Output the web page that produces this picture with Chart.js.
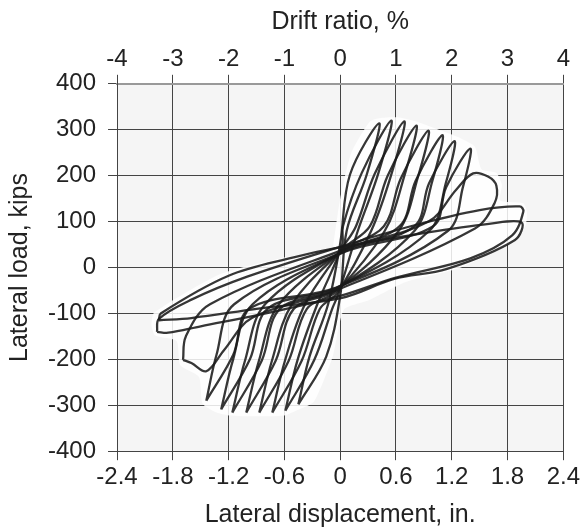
<!DOCTYPE html>
<html>
<head>
<meta charset="utf-8">
<script src="https://cdn.jsdelivr.net/npm/chart.js@4.4.1/dist/chart.umd.min.js"></script>
<style>
  html, body { margin: 0; padding: 0; background: #fff; }
</style>
</head>
<body>
<canvas id="hysteresis" width="583" height="531"></canvas>
<script>
// tick labels
const dispTicks = [-2.4, -1.8, -1.2, -0.6, 0, 0.6, 1.2, 1.8, 2.4];
const driftTicks = [-4, -3, -2, -1, 0, 1, 2, 3, 4];
const loadTicks = [-400, -300, -200, -100, 0, 100, 200, 300, 400];

// hysteresis cycles, [lateral displacement (in.), lateral load (kips)]
const cycle1 = [[-0.45,-298],[-0.33,-194],[-0.13,-80],[0,52],[0.105,202],[0.42,314],[0.285,202],[0.07,80],[0,-62],[-0.15,-194],[-0.45,-298]];
const cycle2 = [[-0.59,-312],[-0.458,-201],[-0.246,-80],[0.02,48],[0.03,90],[0.23,205],[0.55,320],[0.41,205],[0.19,80],[-0.02,-58],[-0.086,-90],[-0.278,-201],[-0.59,-312]];
const cycle3 = [[-0.73,-316],[-0.594,-203],[-0.378,-80],[0.03,45],[0.17,90],[0.372,204],[0.69,318],[0.552,204],[0.334,80],[-0.03,-55],[-0.218,-90],[-0.414,-203],[-0.73,-316]];
const cycle4 = [[-0.87,-316],[-0.734,-203],[-0.518,-80],[0.04,42],[0.32,90],[0.511,200],[0.82,309],[0.691,200],[0.48,80],[-0.04,-52],[-0.358,-90],[-0.554,-203],[-0.87,-316]];
const cycle5 = [[-1.01,-316],[-0.874,-203],[-0.658,-80],[0.05,40],[0.47,90],[0.652,194],[0.95,298],[0.832,194],[0.63,80],[-0.05,-50],[-0.498,-90],[-0.694,-203],[-1.01,-316]];
const cycle6 = [[-1.16,-316],[-1.024,-203],[-0.808,-80],[0.05,38],[0.64,90],[0.812,189],[1.10,288],[0.992,189],[0.80,80],[-0.05,-48],[-0.648,-90],[-0.844,-203],[-1.16,-316]];
const cycle7 = [[-1.28,-309],[-1.151,-200],[-0.942,-80],[0.06,36],[0.80,90],[0.955,183],[1.23,275],[1.135,183],[0.96,80],[-0.06,-46],[-0.782,-90],[-0.971,-200],[-1.28,-309]];
const cycle8 = [[-1.44,-290],[-1.33,-190],[-1.14,-80],[0.06,35],[1.00,90],[1.14,175],[1.40,259],[1.32,175],[1.16,80],[-0.06,-45],[-0.98,-90],[-1.15,-190],[-1.44,-290]];
const cycle9 = [[-1.69,-201],[-1.66,-150],[-1.40,-80],[0.05,40],[0.95,100],[1.25,170],[1.43,205],[1.59,198],[1.68,178],[1.66,140],[1.45,85],[-0.05,-50],[-0.95,-110],[-1.25,-180],[-1.44,-226],[-1.60,-208],[-1.69,-201]];
const cycle10 = [[-1.97,-140],[-1.95,-112],[-1.60,-70],[-1.00,-20],[0,45],[0.80,92],[1.50,125],[1.93,133],[1.97,122],[1.85,70],[1.40,20],[0.60,-22],[0,-62],[-0.80,-100],[-1.50,-128],[-1.85,-142],[-1.97,-140]];
const cycle11 = [[-1.95,-115],[-1.93,-100],[-1.20,-18],[-0.50,22],[-0.05,42],[0.90,75],[1.60,95],[1.95,98],[1.88,60],[1.15,-3],[0.58,-25],[0.02,-66],[-0.90,-90],[-1.60,-110],[-1.95,-115]];

// pale halo that surrounds the loops in the scanned figure
const halo = [[-0.08,40],[0.00,150],[0.12,250],[0.32,318],[0.45,326],[0.62,327],[0.85,316],[1.10,297],[1.30,281],[1.45,263],[1.52,214],[1.68,206],[1.74,180],[1.72,146],[1.97,140],[2.01,120],[1.99,90],[1.82,52],[1.30,0],[0.70,-32],[0.30,-72],[0.04,-92],[-0.08,-194],[-0.28,-292],[-0.45,-310],[-0.60,-322],[-0.90,-324],[-1.20,-322],[-1.33,-316],[-1.48,-296],[-1.52,-238],[-1.72,-213],[-1.76,-160],[-1.99,-148],[-2.03,-125],[-2.00,-98],[-1.30,-15],[-0.60,22],[-0.08,40]];

const cycles = [cycle1, cycle2, cycle3, cycle4, cycle5, cycle6, cycle7, cycle8, cycle9, cycle10, cycle11];

const fontFamily = "'Liberation Sans', Arial, sans-serif";
const textColor = '#222';

// grey plot area behind the grid
const plotBackground = {
    id: 'plotBackground',
    beforeDraw(chart) {
        const { ctx, chartArea: a } = chart;
        ctx.save();
        ctx.fillStyle = '#f5f5f5';
        ctx.fillRect(a.left, a.top, a.right - a.left, a.bottom - a.top);
        ctx.restore();
    }
};

function fixedTicks(values) {
    return (scale) => { scale.ticks = values.map(v => ({ value: v })); };
}

function fmt(v) {
    const r = Math.round(v * 10) / 10;
    return r === 0 ? '0' : String(r);
}

const toXY = (c) => c.map(p => ({ x: p[0], y: p[1] }));

const loopSets = cycles.map(c => ({
    data: toXY(c),
    showLine: true,
    pointRadius: 0,
    borderColor: 'rgba(26,26,26,0.88)',
    borderWidth: 2.3,
    tension: 0.35,
    fill: false,
    order: 0
}));

new Chart(document.getElementById('hysteresis'), {
    type: 'scatter',
    data: {
        datasets: loopSets.concat([{
            data: toXY(halo),
            showLine: true,
            pointRadius: 0,
            borderWidth: 0,
            borderColor: 'rgba(255,255,255,0)',
            backgroundColor: 'rgba(255,255,255,0.85)',
            tension: 0.2,
            fill: 'shape',
            order: 1
        }])
    },
    options: {
        responsive: false,
        animation: false,
        devicePixelRatio: 1,
        plugins: { legend: { display: false }, tooltip: { enabled: false } },
        layout: { padding: 0 },
        scales: {
            x: {
                type: 'linear',
                position: 'bottom',
                min: -2.4,
                max: 2.4,
                afterBuildTicks: fixedTicks(dispTicks),
                ticks: { callback: fmt, color: textColor, font: { family: fontFamily, size: 24 }, padding: 3, maxRotation: 0 },
                grid: { color: '#444', lineWidth: 1, tickLength: 9 },
                border: { color: '#444' },
                title: { display: true, text: 'Lateral displacement, in.', color: textColor, font: { family: fontFamily, size: 25 }, padding: { top: 5, bottom: 1 } }
            },
            x2: {
                type: 'linear',
                position: 'top',
                min: -4,
                max: 4,
                afterBuildTicks: fixedTicks(driftTicks),
                ticks: { color: textColor, font: { family: fontFamily, size: 24 }, padding: 1, maxRotation: 0 },
                grid: { drawOnChartArea: false, color: '#444', tickLength: 9 },
                border: { color: '#999', width: 2 },
                title: { display: true, text: 'Drift ratio, %', color: textColor, font: { family: fontFamily, size: 25 }, padding: { top: 7, bottom: 7 } }
            },
            y: {
                type: 'linear',
                min: -400,
                max: 400,
                afterBuildTicks: fixedTicks(loadTicks),
                ticks: { color: textColor, font: { family: fontFamily, size: 24 }, padding: 12 },
                grid: { color: '#444', lineWidth: 1, tickLength: 9 },
                border: { color: '#444' },
                title: { display: true, text: 'Lateral load, kips', color: textColor, font: { family: fontFamily, size: 25 }, padding: { top: 5, bottom: 1 } }
            }
        }
    },
    plugins: [plotBackground]
});
</script>
</body>
</html>
